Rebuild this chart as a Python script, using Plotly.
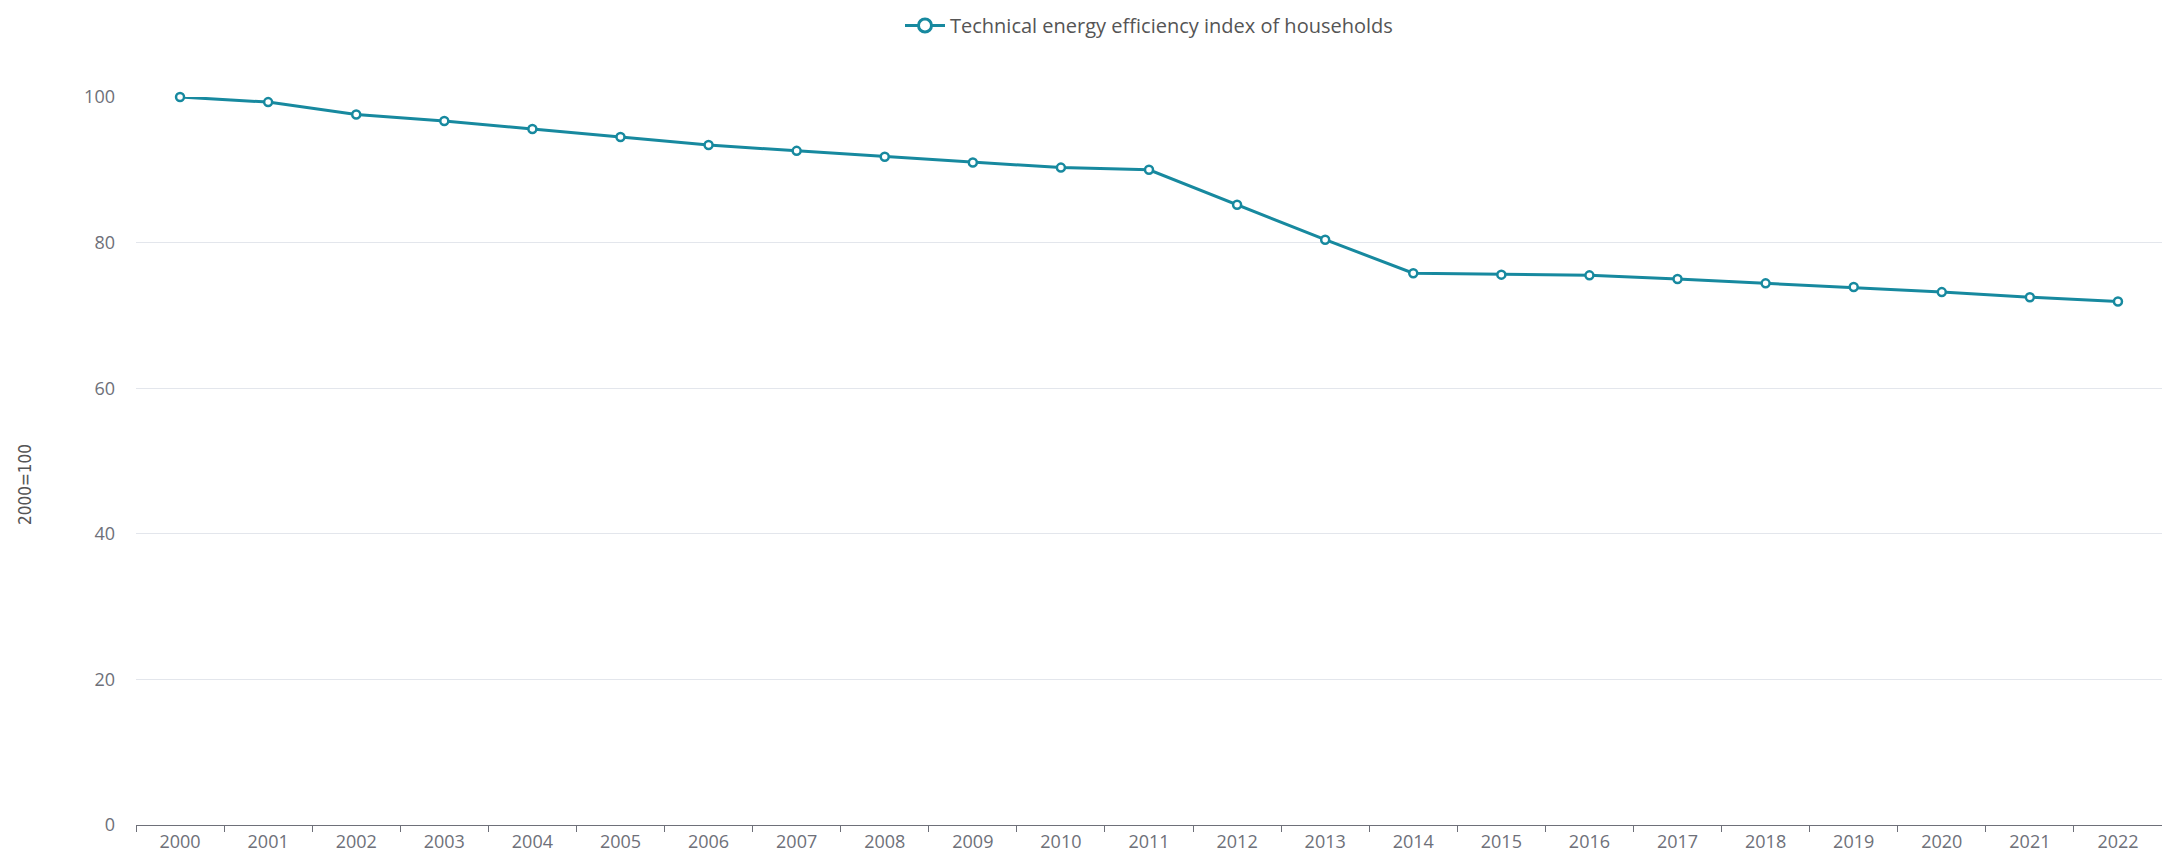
import plotly.graph_objects as go

years = [str(y) for y in range(2000, 2023)]
index_values = [100.0, 99.3, 97.6, 96.7, 95.6, 94.5, 93.4, 92.6, 91.8, 91.0, 90.3, 90.0,
                85.2, 80.4, 75.8, 75.6, 75.5, 75.0, 74.4, 73.9, 73.2, 72.5, 71.9]
series_name = "Technical energy efficiency index of households"
y_title = "2000=100"
y_ticks = [0, 20, 40, 60, 80, 100]

# page body has an 8px default margin, so the figure is slightly smaller
W, H = 2162, 850
left, right, top, bottom = 128, 8, 89, 33
plot_w = W - left - right
plot_h = H - top - bottom

color = "#17899f"

fig = go.Figure()
fig.add_trace(go.Scatter(
    x=years, y=index_values, name=series_name, mode="lines+markers",
    line=dict(color=color, width=3),
    marker=dict(symbol="circle", size=8, color="white", line=dict(color=color, width=2.5)),
    cliponaxis=False, showlegend=False,
))
# legend-only entry with a larger symbol (as in the reference legend)
fig.add_trace(go.Scatter(
    x=[None], y=[None], name=series_name, mode="lines+markers",
    line=dict(color=color, width=3),
    marker=dict(symbol="circle", size=13, color="white", line=dict(color=color, width=3)),
    showlegend=True,
))

fig.add_annotation(
    text=y_title, textangle=-90, xref="paper", yref="paper",
    x=(17 - left) / plot_w, y=(H - bottom - 477) / plot_h,
    xanchor="center", yanchor="middle", showarrow=False,
    font=dict(family="Liberation Sans Narrow, DejaVu Sans Condensed, Roboto, sans-serif",
              size=17, color="#555"),
)

fig.update_layout(
    width=W, height=H,
    margin=dict(l=left, r=right, t=top, b=bottom, autoexpand=False),
    plot_bgcolor="white", paper_bgcolor="white",
    font=dict(family="Open Sans, Noto Sans, sans-serif", size=18, color="#6e7079"),
    legend=dict(
        orientation="h", x=0.5, xanchor="center", y=1 + (top + 2) / plot_h, yanchor="top",
        font=dict(size=20, color="#555"), bgcolor="rgba(0,0,0,0)", itemwidth=40,
    ),
    xaxis=dict(
        type="category", showgrid=False, showline=True, linecolor="#6e7079", linewidth=1,
        ticks="outside", tickson="boundaries", ticklen=6, tickcolor="#6e7079",
        tickfont=dict(size=18, color="#6e7079"), range=[-0.5, len(years) - 0.5],
        zeroline=False, automargin=False,
    ),
    yaxis=dict(
        range=[0, 100], tickvals=y_ticks, showgrid=True, gridcolor="#e3e6ec", gridwidth=1,
        showline=False, zeroline=False, ticks="", ticklabelstandoff=20,
        tickfont=dict(size=18, color="#6e7079"), automargin=False,
    ),
)

fig.write_html("out.html")
